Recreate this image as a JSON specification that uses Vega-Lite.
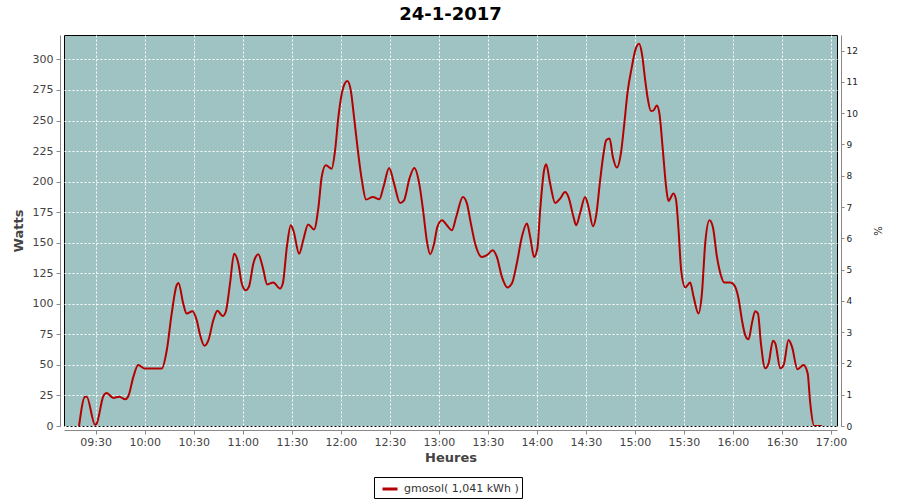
{
  "$schema": "https://vega.github.io/schema/vega-lite/v6.json",
  "autosize": {"type": "none"},
  "width": 773,
  "height": 391,
  "padding": {"left": 64, "top": 35, "right": 63, "bottom": 74},
  "background": "white",
  "title": {"text": "24-1-2017", "font": "DejaVu Sans", "fontSize": 18, "fontWeight": "bold", "color": "black", "anchor": "middle", "offset": 11},
  "config": {
    "view": {"fill": "#9fc3c2", "stroke": "black", "strokeWidth": 1},
    "axis": {"labelFont": "DejaVu Sans", "titleFont": "DejaVu Sans", "domainColor": "#888888", "tickColor": "#888888", "gridColor": "white", "gridDash": [2, 2], "gridWidth": 1, "gridOpacity": 1}
  },
  "data": {"values": [
    {"t": "2017-01-24T09:19:48Z", "w": 0},
    {"t": "2017-01-24T09:23:30Z", "w": 24},
    {"t": "2017-01-24T09:24:30Z", "w": 24},
    {"t": "2017-01-24T09:29:36Z", "w": 1},
    {"t": "2017-01-24T09:30:36Z", "w": 2},
    {"t": "2017-01-24T09:34:42Z", "w": 24.5},
    {"t": "2017-01-24T09:36:42Z", "w": 27},
    {"t": "2017-01-24T09:40:48Z", "w": 23},
    {"t": "2017-01-24T09:44:30Z", "w": 24},
    {"t": "2017-01-24T09:48:00Z", "w": 21.8},
    {"t": "2017-01-24T09:50:00Z", "w": 24.5},
    {"t": "2017-01-24T09:53:00Z", "w": 40},
    {"t": "2017-01-24T09:56:00Z", "w": 50},
    {"t": "2017-01-24T10:00:00Z", "w": 47},
    {"t": "2017-01-24T10:10:24Z", "w": 47},
    {"t": "2017-01-24T10:13:30Z", "w": 62},
    {"t": "2017-01-24T10:16:30Z", "w": 92},
    {"t": "2017-01-24T10:19:30Z", "w": 115},
    {"t": "2017-01-24T10:20:40Z", "w": 117},
    {"t": "2017-01-24T10:23:36Z", "w": 100},
    {"t": "2017-01-24T10:25:42Z", "w": 92},
    {"t": "2017-01-24T10:29:12Z", "w": 94},
    {"t": "2017-01-24T10:31:48Z", "w": 86.7},
    {"t": "2017-01-24T10:33:54Z", "w": 74.4},
    {"t": "2017-01-24T10:36:30Z", "w": 65.7},
    {"t": "2017-01-24T10:39:00Z", "w": 70.3},
    {"t": "2017-01-24T10:42:00Z", "w": 86.7},
    {"t": "2017-01-24T10:44:30Z", "w": 94.3},
    {"t": "2017-01-24T10:47:42Z", "w": 90},
    {"t": "2017-01-24T10:49:36Z", "w": 93.5},
    {"t": "2017-01-24T10:52:12Z", "w": 116.6},
    {"t": "2017-01-24T10:54:42Z", "w": 141},
    {"t": "2017-01-24T10:57:18Z", "w": 133},
    {"t": "2017-01-24T10:59:24Z", "w": 116.6},
    {"t": "2017-01-24T11:01:48Z", "w": 111},
    {"t": "2017-01-24T11:03:48Z", "w": 114},
    {"t": "2017-01-24T11:06:30Z", "w": 133},
    {"t": "2017-01-24T11:09:30Z", "w": 140.6},
    {"t": "2017-01-24T11:12:12Z", "w": 130},
    {"t": "2017-01-24T11:15:00Z", "w": 115.8},
    {"t": "2017-01-24T11:18:42Z", "w": 117.5},
    {"t": "2017-01-24T11:22:48Z", "w": 112.5},
    {"t": "2017-01-24T11:24:30Z", "w": 116.6},
    {"t": "2017-01-24T11:27:00Z", "w": 146.6},
    {"t": "2017-01-24T11:29:24Z", "w": 164.3},
    {"t": "2017-01-24T11:31:00Z", "w": 160},
    {"t": "2017-01-24T11:34:30Z", "w": 141},
    {"t": "2017-01-24T11:37:00Z", "w": 152},
    {"t": "2017-01-24T11:40:00Z", "w": 165},
    {"t": "2017-01-24T11:43:36Z", "w": 160.8},
    {"t": "2017-01-24T11:46:18Z", "w": 179},
    {"t": "2017-01-24T11:48:18Z", "w": 203.8},
    {"t": "2017-01-24T11:50:48Z", "w": 213.4},
    {"t": "2017-01-24T11:54:24Z", "w": 210.6},
    {"t": "2017-01-24T11:56:30Z", "w": 225.6},
    {"t": "2017-01-24T11:58:30Z", "w": 252.8},
    {"t": "2017-01-24T12:01:36Z", "w": 277.4},
    {"t": "2017-01-24T12:04:00Z", "w": 282.3},
    {"t": "2017-01-24T12:06:06Z", "w": 274.7},
    {"t": "2017-01-24T12:08:06Z", "w": 252.8},
    {"t": "2017-01-24T12:10:12Z", "w": 228.3},
    {"t": "2017-01-24T12:12:54Z", "w": 201},
    {"t": "2017-01-24T12:15:30Z", "w": 185.3},
    {"t": "2017-01-24T12:19:36Z", "w": 187.5},
    {"t": "2017-01-24T12:23:36Z", "w": 185.6},
    {"t": "2017-01-24T12:26:06Z", "w": 195.6},
    {"t": "2017-01-24T12:29:36Z", "w": 211.2},
    {"t": "2017-01-24T12:32:36Z", "w": 198.4},
    {"t": "2017-01-24T12:36:18Z", "w": 182.6},
    {"t": "2017-01-24T12:38:42Z", "w": 184.7},
    {"t": "2017-01-24T12:42:00Z", "w": 202.5},
    {"t": "2017-01-24T12:45:00Z", "w": 211.2},
    {"t": "2017-01-24T12:48:00Z", "w": 198.4},
    {"t": "2017-01-24T12:50:36Z", "w": 173.9},
    {"t": "2017-01-24T12:52:36Z", "w": 152},
    {"t": "2017-01-24T12:54:42Z", "w": 140.6},
    {"t": "2017-01-24T12:57:06Z", "w": 149.3},
    {"t": "2017-01-24T12:59:06Z", "w": 163},
    {"t": "2017-01-24T13:02:00Z", "w": 168.4},
    {"t": "2017-01-24T13:04:54Z", "w": 164.3},
    {"t": "2017-01-24T13:08:00Z", "w": 160.2},
    {"t": "2017-01-24T13:10:36Z", "w": 171},
    {"t": "2017-01-24T13:14:42Z", "w": 187.5},
    {"t": "2017-01-24T13:17:06Z", "w": 182.5},
    {"t": "2017-01-24T13:19:36Z", "w": 165.7},
    {"t": "2017-01-24T13:22:12Z", "w": 149.3},
    {"t": "2017-01-24T13:26:18Z", "w": 138.4},
    {"t": "2017-01-24T13:29:24Z", "w": 139.8},
    {"t": "2017-01-24T13:33:00Z", "w": 143.9},
    {"t": "2017-01-24T13:35:30Z", "w": 138.4},
    {"t": "2017-01-24T13:38:36Z", "w": 122},
    {"t": "2017-01-24T13:42:00Z", "w": 113.4},
    {"t": "2017-01-24T13:44:42Z", "w": 116.6},
    {"t": "2017-01-24T13:47:42Z", "w": 133},
    {"t": "2017-01-24T13:50:48Z", "w": 154.7},
    {"t": "2017-01-24T13:53:54Z", "w": 165.7},
    {"t": "2017-01-24T13:55:54Z", "w": 154.7},
    {"t": "2017-01-24T13:58:18Z", "w": 138.4},
    {"t": "2017-01-24T14:00:18Z", "w": 145.3},
    {"t": "2017-01-24T14:02:00Z", "w": 176.6},
    {"t": "2017-01-24T14:04:24Z", "w": 209.3},
    {"t": "2017-01-24T14:05:42Z", "w": 214.2},
    {"t": "2017-01-24T14:08:06Z", "w": 198.4},
    {"t": "2017-01-24T14:11:12Z", "w": 182.5},
    {"t": "2017-01-24T14:14:12Z", "w": 186.1},
    {"t": "2017-01-24T14:17:18Z", "w": 191.5},
    {"t": "2017-01-24T14:19:18Z", "w": 187.5},
    {"t": "2017-01-24T14:22:24Z", "w": 171.1},
    {"t": "2017-01-24T14:24:00Z", "w": 164.3},
    {"t": "2017-01-24T14:26:30Z", "w": 174.5},
    {"t": "2017-01-24T14:29:30Z", "w": 187.5},
    {"t": "2017-01-24T14:31:36Z", "w": 179.3},
    {"t": "2017-01-24T14:34:18Z", "w": 163.5},
    {"t": "2017-01-24T14:36:18Z", "w": 172.5},
    {"t": "2017-01-24T14:38:42Z", "w": 201},
    {"t": "2017-01-24T14:40:48Z", "w": 223},
    {"t": "2017-01-24T14:42:24Z", "w": 233.8},
    {"t": "2017-01-24T14:44:30Z", "w": 235.2},
    {"t": "2017-01-24T14:46:30Z", "w": 220.2},
    {"t": "2017-01-24T14:49:00Z", "w": 211.5},
    {"t": "2017-01-24T14:51:24Z", "w": 223},
    {"t": "2017-01-24T14:53:30Z", "w": 247.5},
    {"t": "2017-01-24T14:55:30Z", "w": 273.3},
    {"t": "2017-01-24T14:58:06Z", "w": 293.7},
    {"t": "2017-01-24T15:00:12Z", "w": 307.4},
    {"t": "2017-01-24T15:02:36Z", "w": 312.8},
    {"t": "2017-01-24T15:04:18Z", "w": 304.6},
    {"t": "2017-01-24T15:06:18Z", "w": 282.8},
    {"t": "2017-01-24T15:07:42Z", "w": 269.2},
    {"t": "2017-01-24T15:09:48Z", "w": 257.8},
    {"t": "2017-01-24T15:11:24Z", "w": 258.3},
    {"t": "2017-01-24T15:13:24Z", "w": 262.4},
    {"t": "2017-01-24T15:15:00Z", "w": 255.6},
    {"t": "2017-01-24T15:17:06Z", "w": 225.6},
    {"t": "2017-01-24T15:19:06Z", "w": 195.6},
    {"t": "2017-01-24T15:20:30Z", "w": 184.2},
    {"t": "2017-01-24T15:23:36Z", "w": 190.2},
    {"t": "2017-01-24T15:25:12Z", "w": 184.7},
    {"t": "2017-01-24T15:26:42Z", "w": 160.2},
    {"t": "2017-01-24T15:28:18Z", "w": 127.5},
    {"t": "2017-01-24T15:30:48Z", "w": 113.4},
    {"t": "2017-01-24T15:33:48Z", "w": 117.5},
    {"t": "2017-01-24T15:35:54Z", "w": 105.7},
    {"t": "2017-01-24T15:38:54Z", "w": 92.1},
    {"t": "2017-01-24T15:41:00Z", "w": 108.5},
    {"t": "2017-01-24T15:43:00Z", "w": 149.3},
    {"t": "2017-01-24T15:45:36Z", "w": 168.4},
    {"t": "2017-01-24T15:47:42Z", "w": 162.9},
    {"t": "2017-01-24T15:50:12Z", "w": 138.4},
    {"t": "2017-01-24T15:52:36Z", "w": 123.4},
    {"t": "2017-01-24T15:54:36Z", "w": 117.5},
    {"t": "2017-01-24T15:58:18Z", "w": 117.5},
    {"t": "2017-01-24T16:00:48Z", "w": 115.3},
    {"t": "2017-01-24T16:03:24Z", "w": 104.4},
    {"t": "2017-01-24T16:05:30Z", "w": 86.7},
    {"t": "2017-01-24T16:07:30Z", "w": 74.4},
    {"t": "2017-01-24T16:09:30Z", "w": 70.9},
    {"t": "2017-01-24T16:11:36Z", "w": 84},
    {"t": "2017-01-24T16:13:36Z", "w": 94},
    {"t": "2017-01-24T16:15:18Z", "w": 92.1},
    {"t": "2017-01-24T16:17:06Z", "w": 67.6},
    {"t": "2017-01-24T16:19:42Z", "w": 47.2},
    {"t": "2017-01-24T16:21:48Z", "w": 51.3},
    {"t": "2017-01-24T16:24:30Z", "w": 69.8},
    {"t": "2017-01-24T16:25:54Z", "w": 67.6},
    {"t": "2017-01-24T16:29:00Z", "w": 47.2},
    {"t": "2017-01-24T16:31:00Z", "w": 49.9},
    {"t": "2017-01-24T16:34:00Z", "w": 70.3},
    {"t": "2017-01-24T16:36:06Z", "w": 64.9},
    {"t": "2017-01-24T16:39:30Z", "w": 46.4},
    {"t": "2017-01-24T16:43:12Z", "w": 49.9},
    {"t": "2017-01-24T16:45:42Z", "w": 43.1},
    {"t": "2017-01-24T16:47:18Z", "w": 18.6},
    {"t": "2017-01-24T16:49:42Z", "w": 0},
    {"t": "2017-01-24T16:54:30Z", "w": 0}
  ]},
  "layer": [
    {
      "mark": {"type": "line", "strokeWidth": 2, "clip": true, "color": "#b40000", "interpolate": "monotone"},
      "encoding": {
        "x": {"field": "t", "type": "temporal",
          "scale": {"type": "utc", "domain": [
            {"year": 2017, "month": 1, "date": 24, "hours": 9, "minutes": 10, "seconds": 36, "utc": true},
            {"year": 2017, "month": 1, "date": 24, "hours": 17, "minutes": 3, "seconds": 40, "utc": true}], "nice": false},
          "axis": {"title": "Heures", "format": "%H:%M",
            "values": [
              {"year": 2017, "month": 1, "date": 24, "hours": 9, "minutes": 30, "utc": true},
              {"year": 2017, "month": 1, "date": 24, "hours": 10, "minutes": 0, "utc": true},
              {"year": 2017, "month": 1, "date": 24, "hours": 10, "minutes": 30, "utc": true},
              {"year": 2017, "month": 1, "date": 24, "hours": 11, "minutes": 0, "utc": true},
              {"year": 2017, "month": 1, "date": 24, "hours": 11, "minutes": 30, "utc": true},
              {"year": 2017, "month": 1, "date": 24, "hours": 12, "minutes": 0, "utc": true},
              {"year": 2017, "month": 1, "date": 24, "hours": 12, "minutes": 30, "utc": true},
              {"year": 2017, "month": 1, "date": 24, "hours": 13, "minutes": 0, "utc": true},
              {"year": 2017, "month": 1, "date": 24, "hours": 13, "minutes": 30, "utc": true},
              {"year": 2017, "month": 1, "date": 24, "hours": 14, "minutes": 0, "utc": true},
              {"year": 2017, "month": 1, "date": 24, "hours": 14, "minutes": 30, "utc": true},
              {"year": 2017, "month": 1, "date": 24, "hours": 15, "minutes": 0, "utc": true},
              {"year": 2017, "month": 1, "date": 24, "hours": 15, "minutes": 30, "utc": true},
              {"year": 2017, "month": 1, "date": 24, "hours": 16, "minutes": 0, "utc": true},
              {"year": 2017, "month": 1, "date": 24, "hours": 16, "minutes": 30, "utc": true},
              {"year": 2017, "month": 1, "date": 24, "hours": 17, "minutes": 0, "utc": true}],
            "offset": 4, "tickSize": 4, "labelPadding": 2, "labelFontSize": 11, "labelColor": "#444444",
            "titleFontSize": 13, "titleFontWeight": "bold", "titleColor": "#444444", "titlePadding": 4,
            "grid": true, "labelFlush": false, "labelOverlap": false}},
        "y": {"field": "w", "type": "quantitative",
          "scale": {"domain": [0, 320], "nice": false, "zero": true},
          "axis": {"title": "Watts", "values": [0, 25, 50, 75, 100, 125, 150, 175, 200, 225, 250, 275, 300],
            "offset": 4, "tickSize": 4, "labelPadding": 3, "labelFontSize": 11, "labelColor": "#444444",
            "titleFontSize": 13, "titleFontWeight": "bold", "titleColor": "#444444", "titlePadding": 7,
            "grid": true}},
        "color": {"datum": "gmosol( 1,041 kWh )", "type": "nominal",
          "scale": {"range": ["#b40000"]},
          "legend": {"title": null, "orient": "none", "legendX": 310, "legendY": 442, "direction": "horizontal",
            "strokeColor": "black", "fillColor": "white", "padding": 3, "symbolType": "stroke", "symbolSize": 225,
            "symbolStrokeWidth": 3, "symbolOffset": 4, "labelFont": "DejaVu Sans", "labelFontSize": 11, "labelColor": "#333333", "labelOffset": 5}}
      }
    },
    {
      "mark": {"type": "rule", "opacity": 0},
      "encoding": {
        "y": {"datum": 0, "type": "quantitative",
          "scale": {"domain": [0, 12.5], "nice": false},
          "axis": {"orient": "right", "title": "%", "values": [0, 1, 2, 3, 4, 5, 6, 7, 8, 9, 10, 11, 12],
            "offset": 4, "tickSize": 3, "labelPadding": 2, "labelFontSize": 9, "labelColor": "#222222",
            "titleFontSize": 10, "titleFontWeight": "normal", "titleColor": "#222222", "titlePadding": 14,
            "grid": false}}
      }
    }
  ],
  "resolve": {"scale": {"y": "independent"}, "axis": {"y": "independent"}}
}
